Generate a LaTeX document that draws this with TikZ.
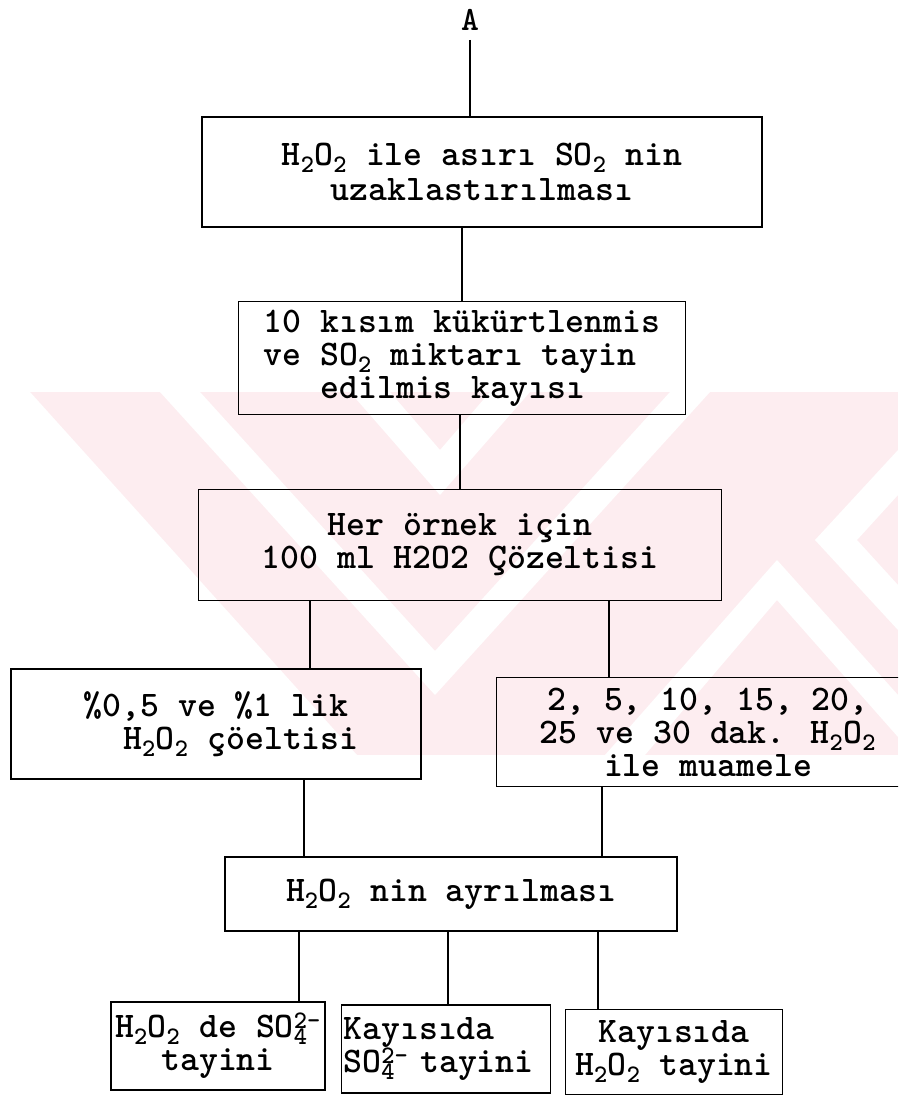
\documentclass[tikz,border=0pt]{standalone}
\usepackage{fontspec}
\usepackage{tikz}
\usetikzlibrary{positioning}
\definecolor{wmpink}{RGB}{253,237,240}
\newcommand{\hperox}{H\textsubscript{2}O\textsubscript{2}}
\newcommand{\sdiox}{SO\textsubscript{2}}
\newcommand{\sulfat}{SO\rlap{\textsubscript{4}}\textsuperscript{2-}}

\begin{document}
\begin{tikzpicture}[
        x=1pt, y=-1pt,
        box/.style={rectangle, draw=black, line width=1.5pt, inner sep=2pt, align=center,
                    font=\ttfamily\bfseries\fontsize{36}{33}\selectfont},
        link/.style={line width=1.5pt, black}
    ]
    \useasboundingbox (0,0) rectangle (898,1097);
    \clip (0,0) rectangle (898,1097);

    % faint watermark behind the chart
    \fill[wmpink] (0,392) rectangle (898,755);
    \fill[white] (0,392) -- (30,392) -- (357,755) -- (0,755) -- cycle;
    \fill[white] (160,392) -- (435,695) -- (710,392) -- (670,392) -- (435,651) -- (200,392) -- cycle;
    \fill[white] (350,392) -- (440,495) -- (530,392) -- (490,392) -- (440,450) -- (390,392) -- cycle;
    \fill[white] (898,450) -- (815,540) -- (898,630) -- (898,585) -- (857,540) -- (898,495) -- cycle;
    \fill[white] (605,755) -- (777,560) -- (898,695) -- (898,737) -- (777,600) -- (645,755) -- cycle;

    % top of the chain
    \node[font=\ttfamily\bfseries\fontsize{34}{34}\selectfont, outer sep=6pt] (A) at (470,20) {A};
    \node[box, minimum width=560, minimum height=110, font=\ttfamily\bfseries\fontsize{36}{35}\selectfont] (remove) at (482,172)
        {\hperox{} ile asırı \sdiox{} nin\\uzaklastırılması};
    \node[box, minimum width=447, minimum height=113, align=left] (sample) at (462,358)
        {10 kısım kükürtlenmis\\ve \sdiox{} miktarı tayin\\\hspace*{57pt}edilmis kayısı};
    \node[box, minimum width=523, minimum height=111] (solution) at (460,545)
        {Her örnek için\\100 ml H2O2 Çözeltisi};

    % two treatments
    \node[box, minimum width=410, minimum height=110] (percent) at (216,724)
        {\%0,5 ve \%1 lik\\\hspace*{50pt}\hperox{} çöeltisi};
    \node[box, minimum width=423, minimum height=109] (minutes) at (708,732)
        {2, 5, 10, 15, 20,\\25 ve 30 dak. \hperox\\ile muamele};
    \node[box, minimum width=452, minimum height=74] (separate) at (451,894)
        {\hperox{} nin ayrılması};

    % determinations
    \node[box, minimum width=214, minimum height=88] (det1) at (218,1046)
        {\hperox{} de \sulfat\\tayini};
    \node[box, minimum height=88, text width=205pt, align=left, inner sep=2pt] (det2) at (446,1049)
        {Kayısıda\\\sulfat{} tayini};
    \node[box, minimum width=217, minimum height=85] (det3) at (674,1052)
        {Kayısıda\\\hperox{} tayini};

    \coordinate (x1) at (310,0);
    \coordinate (x2) at (609,0);
    \coordinate (x3) at (304,0);
    \coordinate (x4) at (602,0);
    \coordinate (x5) at (299,0);
    \coordinate (x6) at (448,0);
    \coordinate (x7) at (598,0);

    \draw[link] (A) -- (A |- remove.north);
    \draw[link] (sample.north) -- (sample.north |- remove.south);
    \draw[link] (solution.north) -- (solution.north |- sample.south);
    \draw[link] (solution.south -| x1) -- (percent.north -| x1);
    \draw[link] (solution.south -| x2) -- (minutes.north -| x2);
    \draw[link] (percent.south -| x3) -- (separate.north -| x3);
    \draw[link] (minutes.south -| x4) -- (separate.north -| x4);
    \draw[link] (separate.south -| x5) -- (det1.north -| x5);
    \draw[link] (separate.south -| x6) -- (det2.north -| x6);
    \draw[link] (separate.south -| x7) -- (det3.north -| x7);
\end{tikzpicture}
\end{document}
